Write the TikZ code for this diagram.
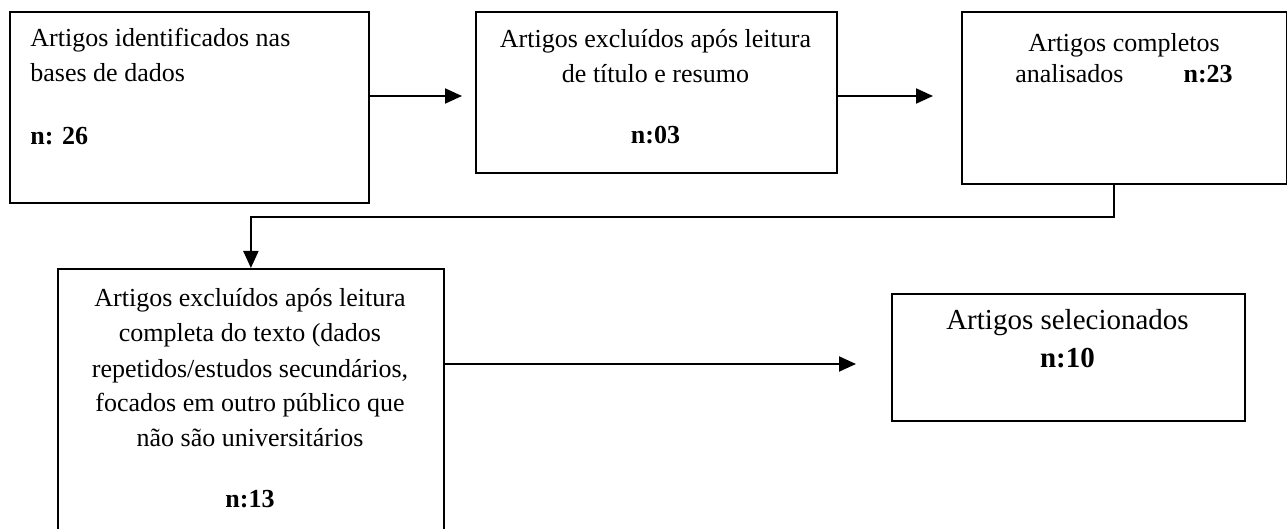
\documentclass[tikz,border=0pt]{standalone}
\usepackage{fontspec}
\setmainfont{Liberation Serif}
\usepackage{tikz}
\usetikzlibrary{arrows.meta,positioning,calc}
\tikzset{%
	box/.style    = {draw, rectangle, line width=0.9pt, inner sep=0pt, anchor=north west},
	txt/.style    = {inner sep=0pt, font=\fontsize{13}{17.5}\selectfont},
	bigtxt/.style = {inner sep=0pt, font=\fontsize{14.5}{19}\selectfont},
	arrow/.style  = {line width=1pt, -{Triangle[length=8.5pt,width=7.5pt]}},
}

\begin{document}
\begin{tikzpicture}[x=0.5pt,y=-0.5pt]
		\useasboundingbox (0,0) rectangle (1287,529);
		% caixas
		\node [box, minimum width=179.5pt, minimum height=95.5pt] (ident) at (9,11) {};
		\node [box, minimum width=180.5pt, minimum height=80.5pt] (exctit) at (475,11) {};
		\node [box, minimum width=162.5pt, minimum height=86pt] (compl) at (961,11) {};
		\node [box, minimum width=193pt, minimum height=133.5pt] (exctxt) at (57,268) {};
		\node [box, minimum width=176.5pt, minimum height=63.5pt] (selec) at (891,293) {};
		
		% textos (base = ultima linha)
		\node [txt, anchor=base west, align=left] (identtxt) at (30,145) {Artigos identificados nas\\bases de dados\\[14pt]\textbf{n: 26}};
		\node [txt, anchor=base, align=center] (exctittxt) at (655.5,144) {Artigos excluídos após leitura\\de título e resumo\\[13pt]\textbf{n:03}};
		\node [txt, anchor=base, align=center, font=\fontsize{13}{15.5}\selectfont] (compltxt) at (1124,83) {Artigos completos\\analisados\hspace{30pt}\textbf{n:23}};
		\node [txt, anchor=base, align=center] (exctxttxt) at (250,508) {Artigos excluídos após leitura\\completa do texto (dados\\repetidos/estudos secundários,\\focados em outro público que\\não são universitários\\[13pt]\textbf{n:13}};
		\node [bigtxt, anchor=base, align=center] (selectxt) at (1067.5,368) {Artigos selecionados\\\textbf{n:10}};
		
		% ligacoes
		\coordinate (t1) at (462,96);
		\coordinate (t2) at (933,96);
		\coordinate (bend) at (1114,217);
		\coordinate (t3) at (856,364);
		\draw[arrow] (ident.east |- t1) -- (t1);
		\draw[arrow] (exctit.east |- t2) -- (t2);
		\draw[arrow] (compl.south -| bend) -- (bend) -| (exctxt.north);
		\draw[arrow] (exctxt.east |- t3) -- (t3);
		\end{tikzpicture}
\end{document}
